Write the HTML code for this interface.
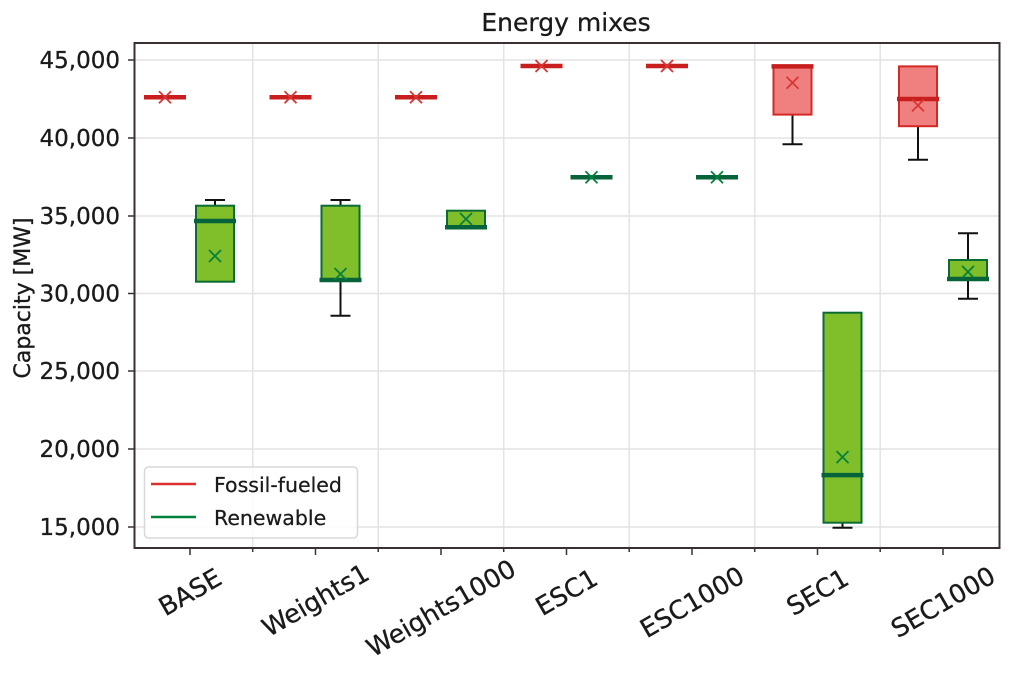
<!DOCTYPE html>
<html><head><meta charset="utf-8"><style>
html,body{margin:0;padding:0;background:#fff;}
svg{display:block;font-family:"DejaVu Sans","Liberation Sans",sans-serif;}
</style></head><body>
<svg width="1013" height="686" viewBox="0 0 1013 686" xmlns="http://www.w3.org/2000/svg">
<rect width="1013" height="686" fill="#fff"/>
<g stroke="#e3e3e3" stroke-width="1.5">
<line x1="135" y1="60" x2="999" y2="60"/>
<line x1="135" y1="138" x2="999" y2="138"/>
<line x1="135" y1="216" x2="999" y2="216"/>
<line x1="135" y1="293.5" x2="999" y2="293.5"/>
<line x1="135" y1="371" x2="999" y2="371"/>
<line x1="135" y1="449" x2="999" y2="449"/>
<line x1="135" y1="527" x2="999" y2="527"/>
<line x1="252.7" y1="43" x2="252.7" y2="548"/>
<line x1="378.2" y1="43" x2="378.2" y2="548"/>
<line x1="503.7" y1="43" x2="503.7" y2="548"/>
<line x1="629.2" y1="43" x2="629.2" y2="548"/>
<line x1="754.7" y1="43" x2="754.7" y2="548"/>
<line x1="880.2" y1="43" x2="880.2" y2="548"/>
</g>
<rect x="134.5" y="43" width="865" height="505" fill="none" stroke="#3a3030" stroke-width="2"/>
<g stroke="#3a3030" stroke-width="1.5">
<line x1="128" y1="60" x2="134" y2="60"/><line x1="128" y1="138" x2="134" y2="138"/>
<line x1="128" y1="216" x2="134" y2="216"/><line x1="128" y1="293.5" x2="134" y2="293.5"/>
<line x1="128" y1="371" x2="134" y2="371"/><line x1="128" y1="449" x2="134" y2="449"/>
<line x1="128" y1="527" x2="134" y2="527"/>
<line x1="190" y1="548" x2="190" y2="555"/><line x1="315.5" y1="548" x2="315.5" y2="555"/>
<line x1="441" y1="548" x2="441" y2="555"/><line x1="566.5" y1="548" x2="566.5" y2="555"/>
<line x1="692" y1="548" x2="692" y2="555"/><line x1="817.5" y1="548" x2="817.5" y2="555"/>
<line x1="943" y1="548" x2="943" y2="555"/>
<line x1="252.7" y1="548" x2="252.7" y2="552"/><line x1="378.2" y1="548" x2="378.2" y2="552"/>
<line x1="503.7" y1="548" x2="503.7" y2="552"/><line x1="629.2" y1="548" x2="629.2" y2="552"/>
<line x1="754.7" y1="548" x2="754.7" y2="552"/><line x1="880.2" y1="548" x2="880.2" y2="552"/>
</g>
<g font-size="23" fill="#1a1a1a" text-anchor="end" stroke="#1a1a1a" stroke-width="0.3">
<text x="120" y="68">45,000</text><text x="120" y="146">40,000</text>
<text x="120" y="224">35,000</text><text x="120" y="301.5">30,000</text>
<text x="120" y="379">25,000</text><text x="120" y="457">20,000</text>
<text x="120" y="535">15,000</text>
</g>
<text x="30" y="298" font-size="22" fill="#1a1a1a" stroke="#1a1a1a" stroke-width="0.3" text-anchor="middle" transform="rotate(-90 30 298)">Capacity [MW]</text>
<text x="566" y="31" font-size="25" fill="#1a1a1a" stroke="#1a1a1a" stroke-width="0.3" text-anchor="middle">Energy mixes</text>
<g font-size="25.5" fill="#1a1a1a" text-anchor="middle" stroke="#1a1a1a" stroke-width="0.3">
<text x="190" y="601" transform="rotate(-30 190 592)">BASE</text>
<text x="315.5" y="609" transform="rotate(-30 315.5 600)">Weights1</text>
<text x="441" y="617" transform="rotate(-30 441 608)">Weights1000</text>
<text x="566.5" y="601" transform="rotate(-30 566.5 592)">ESC1</text>
<text x="692" y="611" transform="rotate(-30 692 602)">ESC1000</text>
<text x="817.5" y="601" transform="rotate(-30 817.5 592)">SEC1</text>
<text x="943" y="611" transform="rotate(-30 943 602)">SEC1000</text>
</g>
<g stroke="#111" stroke-width="2">
<line x1="215" y1="200" x2="215" y2="205.7"/><line x1="205" y1="200" x2="225" y2="200"/>
<line x1="340.5" y1="200" x2="340.5" y2="205.7"/><line x1="330.5" y1="200" x2="350.5" y2="200"/>
<line x1="340.5" y1="280" x2="340.5" y2="315.7"/><line x1="330.5" y1="315.7" x2="350.5" y2="315.7"/>
<line x1="792.5" y1="114.6" x2="792.5" y2="144.2"/><line x1="782.5" y1="144.2" x2="802.5" y2="144.2"/>
<line x1="918" y1="126.2" x2="918" y2="159.8"/><line x1="908" y1="159.8" x2="928" y2="159.8"/>
<line x1="842.5" y1="522.7" x2="842.5" y2="527.8"/><line x1="832.5" y1="527.8" x2="852.5" y2="527.8"/>
<line x1="968" y1="233.2" x2="968" y2="260"/><line x1="958" y1="233.2" x2="978" y2="233.2"/>
<line x1="968" y1="279" x2="968" y2="298.8"/><line x1="958" y1="298.8" x2="978" y2="298.8"/>
</g>
<g fill="#80bf2a" stroke="#0a6b35" stroke-width="2">
<rect x="196" y="205.7" width="38" height="76"/>
<rect x="321.5" y="205.7" width="38" height="74.3"/>
<rect x="447" y="210.7" width="38" height="16.6"/>
<rect x="823.5" y="312.7" width="38" height="210"/>
<rect x="949" y="260" width="38" height="19"/>
</g>
<g fill="#f08080" stroke="#d42a24" stroke-width="2">
<rect x="773.5" y="66.4" width="38" height="48.2"/>
<rect x="899" y="66.4" width="38" height="59.8"/>
</g>
<g stroke="#c81e1e" stroke-width="4.5">
<line x1="144" y1="97.3" x2="186" y2="97.3"/>
<line x1="269.5" y1="97.3" x2="311.5" y2="97.3"/>
<line x1="395" y1="97.3" x2="437" y2="97.3"/>
<line x1="520.5" y1="66" x2="562.5" y2="66"/>
<line x1="646" y1="66" x2="688" y2="66"/>
<line x1="771.5" y1="66.4" x2="813.5" y2="66.4"/>
<line x1="897" y1="99" x2="939" y2="99"/>
</g>
<g stroke="#07633a" stroke-width="4.5">
<line x1="194" y1="221" x2="236" y2="221"/>
<line x1="319.5" y1="280" x2="361.5" y2="280"/>
<line x1="445" y1="227.3" x2="487" y2="227.3"/>
<line x1="570.5" y1="177.3" x2="612.5" y2="177.3"/>
<line x1="696" y1="177.3" x2="738" y2="177.3"/>
<line x1="821.5" y1="475.1" x2="863.5" y2="475.1"/>
<line x1="947" y1="279" x2="989" y2="279"/>
</g>
<g stroke="#d83535" stroke-width="1.8" fill="none">
<path d="M159,91.3l12,12M171,91.3l-12,12"/>
<path d="M284.5,91.3l12,12M296.5,91.3l-12,12"/>
<path d="M410,91.3l12,12M422,91.3l-12,12"/>
<path d="M535.5,60l12,12M547.5,60l-12,12"/>
<path d="M661,60l12,12M673,60l-12,12"/>
<path d="M786.5,76.7l12,12M798.5,76.7l-12,12"/>
<path d="M912,99.4l12,12M924,99.4l-12,12"/>
</g>
<g stroke="#05803d" stroke-width="1.8" fill="none">
<path d="M209,250l12,12M221,250l-12,12"/>
<path d="M334.5,268l12,12M346.5,268l-12,12"/>
<path d="M460,213l12,12M472,213l-12,12"/>
<path d="M585.5,171.3l12,12M597.5,171.3l-12,12"/>
<path d="M711,171.3l12,12M723,171.3l-12,12"/>
<path d="M836.5,451.1l12,12M848.5,451.1l-12,12"/>
<path d="M962,265.9l12,12M974,265.9l-12,12"/>
</g>
<rect x="144.5" y="467" width="213" height="71" rx="4" fill="#fff" fill-opacity="0.85" stroke="#d8d8d8" stroke-width="1.5"/>
<line x1="151" y1="484" x2="196" y2="484" stroke="#d9312f" stroke-width="2.5"/>
<line x1="151" y1="517" x2="196" y2="517" stroke="#00843d" stroke-width="2.5"/>
<g font-size="20.5" fill="#1a1a1a" stroke="#1a1a1a" stroke-width="0.25">
<text x="214" y="492">Fossil-fueled</text>
<text x="214" y="525">Renewable</text>
</g>
</svg>
</body></html>
